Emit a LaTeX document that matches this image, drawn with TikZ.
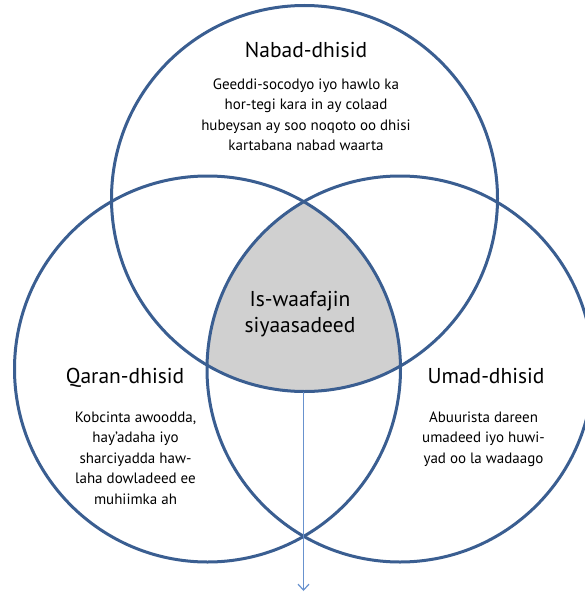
\documentclass[tikz,border=0pt]{standalone}
\usepackage{fontspec}
\setmainfont{PT Sans}
\usetikzlibrary{arrows.meta}
\definecolor{ringblue}{RGB}{58,94,145}
\definecolor{arrowblue}{RGB}{104,146,206}
\definecolor{coregray}{RGB}{208,208,208}
\tikzset{
	ring/.style={draw=ringblue, line width=3pt},
	head/.style={font=\fontsize{21.5}{26}\selectfont, align=center, anchor=base},
	body/.style={font=\fontsize{15}{20.5}\selectfont, align=center, anchor=base},
}
\begin{document}
\begin{tikzpicture}[x=1pt, y=-1pt]
	\useasboundingbox (0,0) rectangle (584,594);
	% Centres
	\coordinate (T) at (304.5,198.5);
	\coordinate (L) at (207.5,369);
	\coordinate (R) at (400,369);
	% Common part
	\begin{scope}
		\clip (L) circle[radius=193pt];
		\clip (R) circle[radius=193pt];
		\fill[coregray] (T) circle[radius=193pt];
	\end{scope}
	% Circles
	\draw[ring] (T) circle[radius=193pt];
	\draw[ring] (L) circle[radius=193pt];
	\draw[ring] (R) circle[radius=193pt];
	% Labels (base = last line)
	\node[head] (nabad) at (306,57.3) {Nabad-dhisid};
	\node[body] (nabadtxt) at (306,150.7) {Geeddi-socodyo iyo hawlo ka\\hor-tegi kara in ay colaad\\hubeysan ay soo noqoto oo dhisi\\kartabana nabad waarta};
	\node[head] (siyaasad) at (300,332.7) {Is-waafajin\\siyaasadeed};
	\node[head] (qaran) at (125,383) {Qaran-dhisid};
	\node[body] (qarantxt) at (135.5,504) {Kobcinta awoodda,\\hay'adaha iyo\\sharciyadda haw-\\laha dowladeed ee\\muhiimka ah};
	\node[head] (umad) at (486,383) {Umad-dhisid};
	\node[body] (umadtxt) at (483.5,463) {Abuurista dareen\\umadeed iyo huwi-\\yad oo la wadaago};
	% Arrow
	\coordinate (coreend) at (303.5,392);
	\coordinate (down) at (303.5,591);
	\draw[-{Straight Barb[length=6pt,width=11pt]}, arrowblue, line width=1.2pt] (coreend) -- (down);
\end{tikzpicture}
\end{document}
